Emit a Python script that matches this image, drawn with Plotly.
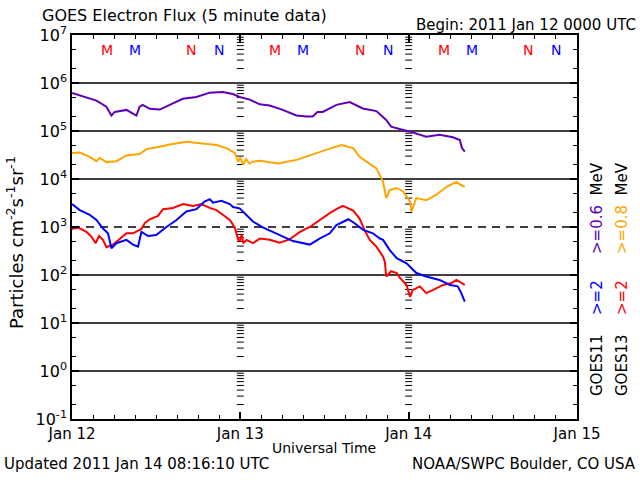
import plotly.graph_objects as go

# ---------------- data (hours since 2011 Jan 12 00:00 UTC, flux) ----------------
g11_06_t = [0.0, 2.05, 3.48, 4.9, 5.62, 6.09, 7.76, 9.18, 9.65, 10.08, 11.08, 12.51, 13.93, 15.79,
            17.74, 19.64, 21.49, 22.92, 23.91, 25.34, 26.76, 28.19, 30.04, 32.0, 33.43, 34.3, 35.0,
            35.75, 37.7, 39.6, 41.45, 43.4, 44.8, 45.5, 46.7, 48.1, 50.5, 52.4, 54.3, 55.3, 55.6, 56.0]
g11_06_f = [6.2e5, 4.9e5, 4.3e5, 3.2e5, 2.1e5, 2.5e5, 2.75e5, 2.1e5, 3.2e5, 3.5e5, 2.9e5, 2.8e5, 3.5e5, 4.7e5,
            5.1e5, 6.3e5, 6.5e5, 5.9e5, 5.1e5, 4.5e5, 3.6e5, 3.4e5, 2.75e5, 2.1e5, 2.0e5, 2.0e5, 2.5e5,
            2.5e5, 3.5e5, 4.0e5, 2.95e5, 2.6e5, 1.7e5, 1.23e5, 1.1e5, 9.8e4, 7.6e4, 8.3e4, 7.4e4, 6.5e4, 4.4e4, 3.7e4]

g13_08_t = [0.0, 1.1, 2.52, 3.48, 3.95, 4.9, 6.33, 7.76, 9.65, 10.6, 12.5, 13.93, 16.3, 18.7, 20.6, 22.0,
            23.2, 23.7, 24.0, 24.4, 24.8, 25.3, 25.8, 26.8, 29.4, 32.0, 34.85, 36.75, 38.4, 40.1, 41.0,
            42.45, 43.4, 44.35, 44.8, 45.3, 46.3, 47.2, 48.2, 48.4, 49.1, 50.5, 51.96, 53.4, 54.8, 55.5, 56.0]
g13_08_f = [3.5e4, 3.55e4, 2.9e4, 2.35e4, 2.75e4, 2.25e4, 2.35e4, 3.1e4, 3.3e4, 4.2e4, 4.7e4, 5.25e4, 6.0e4, 5.5e4, 5.1e4, 4.4e4,
            3.5e4, 2.3e4, 2.8e4, 2.0e4, 2.6e4, 2.1e4, 2.3e4, 2.4e4, 2.1e4, 2.5e4, 3.5e4, 4.3e4, 5.1e4, 4.4e4, 2.9e4,
            2.1e4, 1.66e4, 8.7e3, 4.0e3, 5.9e3, 6.5e3, 5.5e3, 3.4e3, 2.1e3, 4.0e3, 3.6e3, 4.7e3, 6.9e3, 8.7e3, 7.4e3, 6.9e3]

g11_2_t = [0.0, 1.1, 2.52, 3.48, 4.42, 5.13, 5.62, 6.33, 7.76, 8.7, 9.41, 9.9, 10.84, 12.0, 13.46, 14.9,
           16.3, 17.74, 18.9, 19.64, 20.1, 21.3, 22.5, 22.96, 23.9, 24.9, 25.8, 27.2, 29.1, 31.5, 33.9,
           35.3, 36.75, 37.7, 39.4, 40.3, 41.5, 42.9, 43.9, 44.35, 45.3, 46.3, 47.7, 49.1, 50.5, 52.4,
           53.9, 55.0, 55.5, 56.0]
g11_2_f = [3.0e3, 2.25e3, 1.8e3, 1.4e3, 930, 740, 360, 460, 540, 430, 390, 790, 650, 680, 1.0e3, 1.4e3,
           2.1e3, 2.35e3, 3.4e3, 3.8e3, 3.2e3, 3.5e3, 3.0e3, 2.6e3, 2.45e3, 1.8e3, 1.3e3, 980, 740, 510, 430,
           575, 740, 1.1e3, 1.45e3, 1.2e3, 870, 740, 575, 540, 330, 225, 175, 110, 93, 79,
           62, 58, 42, 28]

g13_2_t = [0.0, 0.86, 2.05, 2.77, 3.38, 3.85, 4.42, 4.9, 5.85, 6.8, 7.76, 8.7, 9.9, 10.37, 11.08, 12.26,
           12.98, 14.4, 15.83, 17.25, 18.45, 19.64, 20.6, 21.5, 22.5, 23.2, 23.7, 23.9, 24.2, 24.4, 24.9,
           25.8, 26.8, 28.2, 29.6, 31.0, 32.5, 33.9, 35.3, 36.75, 37.7, 38.6, 40.1, 41.0, 41.7, 42.45,
           43.4, 43.9, 44.35, 44.6, 44.8, 45.5, 46.3, 46.7, 47.7, 48.2, 48.6, 49.6, 50.5, 51.5, 52.9,
           54.1, 54.8, 56.0]
g13_2_f = [910, 980, 790, 630, 460, 650, 540, 380, 430, 575, 740, 740, 910, 1.2e3, 1.45e3, 1.7e3,
           2.35e3, 2.5e3, 3.0e3, 2.75e3, 3.0e3, 2.5e3, 2.25e3, 1.8e3, 1.4e3, 980, 540, 500, 710, 460, 540,
           460, 575, 540, 470, 550, 790, 1.0e3, 1.4e3, 1.95e3, 2.35e3, 2.75e3, 2.2e3, 1.5e3, 870, 540,
           390, 310, 240, 190, 93, 120, 110, 89, 62, 35, 49, 58, 42, 49, 62,
           68, 79, 62]

day_ticks = [0, 24, 48, 72]
day_labels = ["Jan 12", "Jan 13", "Jan 14", "Jan 15"]
decades = [-1, 0, 1, 2, 3, 4, 5, 6, 7]

# local midnight (M) / noon (N) hours for each satellite
g13_mn = [("M", 5), ("N", 17)]
g11_mn = [("M", 9), ("N", 21)]

PURPLE = "#5f00b8"
ORANGE = "#ffa500"
RED = "#ff0000"
BLUE = "#0000ff"
FONT = "DejaVu Sans"

# ---------------- layout geometry ----------------
W, H = 640, 480
L, R, T, B = 72, 63, 35, 61
PW, PH = W - L - R, H - T - B


def px(x):
    return (x - L) / PW


def py(y):
    return (H - B - y) / PH


fig = go.Figure()

# horizontal decade lines
for d in decades[1:-1]:
    fig.add_trace(go.Scatter(
        x=[day_ticks[0], day_ticks[-1]], y=[10.0 ** d, 10.0 ** d], mode="lines",
        line=dict(color="black", width=1.6, dash="8px,6px" if d == 3 else "solid"),
        hoverinfo="skip"))

# minor tick columns at day boundaries
cx, cy = [], []
for day in day_ticks[1:-1]:
    for d in decades[:-1]:
        for k in range(2, 10):
            cx.append(day)
            cy.append(k * 10.0 ** d)
fig.add_trace(go.Scatter(x=cx, y=cy, mode="markers",
                         marker=dict(symbol="line-ew", size=5, line=dict(color="black", width=1)),
                         hoverinfo="skip"))

# data
for t, f, c in [(g11_06_t, g11_06_f, PURPLE), (g13_08_t, g13_08_f, ORANGE),
                (g13_2_t, g13_2_f, RED), (g11_2_t, g11_2_f, BLUE)]:
    fig.add_trace(go.Scatter(x=t, y=f, mode="lines", line=dict(color=c, width=2),
                             hoverinfo="skip"))

ann = []
# M / N markers
for day in day_ticks[:-1]:
    for lab, h in g13_mn:
        ann.append(dict(x=day + h, y=6.69, xref="x", yref="y", text=lab, showarrow=False,
                        font=dict(family=FONT, size=14, color=RED)))
    for lab, h in g11_mn:
        ann.append(dict(x=day + h, y=6.69, xref="x", yref="y", text=lab, showarrow=False,
                        font=dict(family=FONT, size=14, color=BLUE)))


def text(x, y, s, size=15, xanchor="center", yanchor="middle", angle=0, color="black"):
    ann.append(dict(x=px(x), y=py(y), xref="paper", yref="paper", text=s, showarrow=False,
                    xanchor=xanchor, yanchor=yanchor, textangle=angle,
                    font=dict(family=FONT, size=size, color=color)))


text(40, 16, "GOES Electron Flux (5 minute data)", size=16, xanchor="left")
text(638, 25, "Begin: 2011 Jan 12 0000 UTC", size=15, xanchor="right")
text(324, 448, "Universal Time", size=14)
text(2, 464, "Updated 2011 Jan 14 08:16:10 UTC", size=15, xanchor="left")
text(638, 464, "NOAA/SWPC Boulder, CO USA", size=15, xanchor="right")
text(15, 243, "Particles cm<sup>-2</sup>s<sup>-1</sup>sr<sup>-1</sup>", size=18, angle=-90)

# right-side legend (rotated)
text(597, 365, "GOES11", size=15, angle=-90)
text(622, 365, "GOES13", size=15, angle=-90)
text(597, 298, "&gt;=2", size=15, angle=-90, color=BLUE)
text(622, 298, "&gt;=2", size=15, angle=-90, color=RED)
text(597, 208, "<span style='color:%s'>&gt;=0.6</span>  MeV" % PURPLE, size=15, angle=-90)
text(622, 208, "<span style='color:%s'>&gt;=0.8</span>  MeV" % ORANGE, size=15, angle=-90)

fig.update_layout(
    width=W, height=H, margin=dict(l=L, r=R, t=T, b=B, autoexpand=False),
    paper_bgcolor="white", plot_bgcolor="white", showlegend=False, hovermode=False,
    annotations=ann,
    font=dict(family=FONT, size=15, color="black"),
)
fig.update_xaxes(
    range=[day_ticks[0], day_ticks[-1]], tickvals=day_ticks, ticktext=day_labels,
    ticks="inside", ticklen=7, tickwidth=1.5, tickcolor="black",
    minor=dict(dtick=3, tick0=0, ticks="inside", ticklen=4, tickwidth=1, tickcolor="black", showgrid=False),
    showgrid=False, zeroline=False, showline=True, linecolor="black", linewidth=1.6, mirror="ticks",
    tickfont=dict(family=FONT, size=15), automargin=False,
)
fig.update_yaxes(
    type="log", range=[decades[0], decades[-1]],
    tickvals=[10.0 ** d for d in decades],
    ticktext=["10<sup>%d</sup>" % d for d in decades],
    ticks="inside", ticklen=7, tickwidth=1.5, tickcolor="black",
    minor=dict(ticks="inside", ticklen=4, tickwidth=1, tickcolor="black", showgrid=False),
    showgrid=False, zeroline=False, showline=True, linecolor="black", linewidth=1.6, mirror="ticks",
    tickfont=dict(family=FONT, size=16), automargin=False,
)

fig.write_html("out.html")
